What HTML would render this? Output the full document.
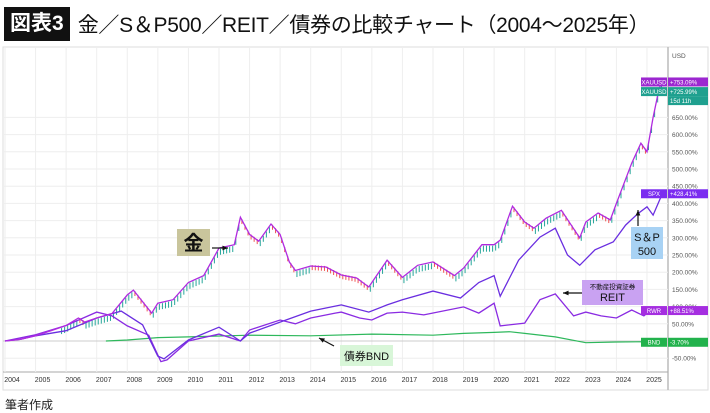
<!DOCTYPE html>
<html><head><meta charset="utf-8">
<style>
body{margin:0;width:710px;height:413px;background:#fff;overflow:hidden;font-family:"Liberation Sans","Noto Sans CJK JP",sans-serif;}
#title{position:absolute;left:0;top:6px;height:36px;display:flex;align-items:center;}
#badge{background:#111;color:#fff;font-size:21px;font-weight:bold;padding:2px 6px;margin-left:4px;height:30px;line-height:30px;}
#ttext{font-size:21px;margin-left:8px;color:#111;letter-spacing:-0.3px;}
#foot{position:absolute;left:5px;top:396px;font-size:12px;color:#222;}
svg{position:absolute;left:0;top:0;}
</style></head><body>
<div id="title"><span id="badge">図表3</span><span id="ttext">金／S＆P500／REIT／債券の比較チャート（2004～2025年）</span></div>
<svg id="chart" width="710" height="413"></svg>
<div id="foot">筆者作成</div>
<script>
const years=[2004,2005,2006,2007,2008,2009,2010,2011,2012,2013,2014,2015,2016,2017,2018,2019,2020,2021,2022,2023,2024,2025];
const yTicks=[-50,50,100,150,200,250,300,350,400,450,500,550,600,650];
const goldT=[2004,2004.5,2005,2005.5,2006,2006.4,2006.6,2007,2007.5,2008,2008.2,2008.8,2009,2009.5,2010,2010.5,2011,2011.5,2011.7,2012,2012.3,2012.7,2013,2013.3,2013.5,2014,2014.5,2015,2015.5,2015.9,2016.5,2017,2017.5,2018,2018.7,2019,2019.6,2020,2020.2,2020.6,2021,2021.3,2021.7,2022.2,2022.8,2023,2023.4,2023.8,2024,2024.5,2024.8,2025,2025.2,2025.4,2025.5];
const goldV=[0,5,15,30,45,67,55,67,80,134,148,81,110,120,170,190,270,280,360,310,290,340,310,230,205,218,215,192,183,157,235,185,220,230,190,212,280,280,293,392,346,328,357,380,300,346,372,352,400,517,575,550,650,735,753];
const spxT=[2004,2004.5,2005,2006,2007,2007.8,2008.5,2009,2009.2,2010,2011,2011.7,2012,2013,2014,2015,2015.9,2016.5,2017,2018,2018.9,2019.5,2020,2020.2,2020.8,2021.5,2022,2022.4,2022.8,2023.3,2023.9,2024.3,2024.7,2025,2025.2,2025.5];
const spxV=[0,5,15,30,67,87,47,-44,-52,3,40,0,23,55,87,105,84,105,120,145,125,170,190,130,235,302,328,250,220,265,288,337,370,390,366,428];
const reitT=[2004,2005,2006,2007,2007.5,2008,2008.7,2009.1,2009.3,2010,2011,2011.7,2012,2013,2013.5,2014,2014.8,2015,2015.6,2016,2016.5,2017,2017.7,2019,2019.5,2020,2020.2,2021,2021.5,2022,2022.6,2023,2023.5,2024,2024.5,2024.9,2025.2,2025.5];
const reitV=[0,18,45,84,73,44,17,-60,-55,0,20,0,32,61,50,67,81,84,67,61,81,84,76,99,81,110,44,52,120,137,73,84,73,67,90,73,96,88.5];
const bndT=[2007.3,2008,2009,2010,2012,2014,2016,2018,2019,2020,2020.5,2021,2022,2023,2024,2025,2025.5];
const bndV=[0,3,10,12,17,15,20,17,22,25,27,22,12,-5,-3,-2,-3.7];
const svg=document.getElementById('chart');
const NS='http://www.w3.org/2000/svg';
const X=t=>5+(t-2004)*30.57, Y=v=>341-v*0.344;
function mk(tag,a,p){const e=document.createElementNS(NS,tag);for(const k in a)e.setAttribute(k,a[k]);(p||svg).appendChild(e);return e;}
mk('rect',{x:3,y:47,width:705,height:343,fill:'none',stroke:'#ddd'});
mk('line',{x1:668,y1:47,x2:668,y2:390,stroke:'#bbb','stroke-width':1.5});
mk('line',{x1:3,y1:372,x2:668,y2:372,stroke:'#aaa'});
years.forEach(y=>{const g=mk('line',{x1:X(y),y1:48,x2:X(y),y2:372,stroke:'#eee'});

const t=mk('text',{x:X(y)+7,y:382,'font-size':7,'text-anchor':'middle',fill:'#333'});t.textContent=y;
});
yTicks.concat([0]).forEach(v=>{const g=mk('line',{x1:3,y1:Y(v),x2:668,y2:Y(v),stroke:v===0?'#ccc':'#eee'});

if(v===0)return;const t=mk('text',{x:672,y:Y(v)+2.5,'font-size':6.5,fill:'#555'});t.textContent=v.toFixed(2)+'%';
});
const usd=mk('text',{x:672,y:58,'font-size':6.5,fill:'#555'});usd.textContent='USD';

function pts(T,V){return T.map((t,i)=>X(t).toFixed(1)+','+Y(V[i]).toFixed(1)).join(' ');}
for(let i=0;i<goldT.length-1;i++){const n=Math.max(2,Math.round((goldT[i+1]-goldT[i])*10));for(let k=0;k<n;k++){const f=(k+0.5)/n;const t=goldT[i]+(goldT[i+1]-goldT[i])*f;const v=goldV[i]+(goldV[i+1]-goldV[i])*f;
if(t<2005.8)continue;const up=goldV[i+1]>=goldV[i];const c=mk('rect',{x:X(t)-0.5,y:Y(v)+(up?1:-1),width:1,height:up?6:5,fill:up?'#26a69a':'#ef5350'});
}}
const b=mk('polyline',{points:pts(bndT,bndV),fill:'none',stroke:'#2eb85c','stroke-width':1.2});

const r=mk('polyline',{points:pts(reitT,reitV),fill:'none',stroke:'#8a2be2','stroke-width':1.3});

const s=mk('polyline',{points:pts(spxT,spxV),fill:'none',stroke:'#6a2ee0','stroke-width':1.3});

const g=mk('polyline',{points:pts(goldT,goldV),fill:'none',stroke:'#b02ae0','stroke-width':1.3});

function tag(y,bg,a,bt,name){const gg=mk('g',{});
mk('rect',{x:641,y:y-4.5,width:26,height:9,fill:bg},gg);mk('rect',{x:668,y:y-4.5,width:40,height:9,fill:bg},gg);
const t1=mk('text',{x:654,y:y+2.3,'font-size':6,fill:'#fff','text-anchor':'middle'},gg);t1.textContent=a;
const t2=mk('text',{x:670,y:y+2.3,'font-size':6,fill:'#fff'},gg);t2.textContent=bt;}
tag(Y(753),'#9c27d0','XAUUSD','+753.09%','gold-price-tag');
tag(Y(725),'#1fa08f','XAUUSD','+725.99%','gold-close-tag');
mk('rect',{x:668,y:Y(725)+4.5,width:40,height:9,fill:'#1fa08f'});
const cd=mk('text',{x:670,y:Y(725)+11.5,'font-size':6,fill:'#fff'});cd.textContent='15d 11h';
tag(Y(428),'#7b2cf0','SPX','+428.41%','spx-tag');
tag(Y(88.5),'#a52ee0','RWR','+88.51%','reit-tag');
tag(Y(-3.7),'#22b24c','BND','-3.70%','bnd-tag');
function arrow(x1,y1,x2,y2){mk('line',{x1,y1,x2,y2,stroke:'#111','stroke-width':1.2});const a=Math.atan2(y2-y1,x2-x1);
mk('polygon',{points:`${x2},${y2} ${x2-6*Math.cos(a-0.4)},${y2-6*Math.sin(a-0.4)} ${x2-6*Math.cos(a+0.4)},${y2-6*Math.sin(a+0.4)}`,fill:'#111'});}
function box(x,y,w,h,bg,lines,name){const gg=mk('g',{});
mk('rect',{x,y,width:w,height:h,fill:bg},gg);lines.forEach(l=>{const t=mk('text',{x:x+w/2,y:l[1],'font-size':l[2],'text-anchor':'middle',fill:'#111','font-weight':l[3]||'normal'},gg);t.textContent=l[0];});}
box(177,229,33,27,'#c9c59c',[['金',250,20,'bold']],'gold-annotation');arrow(212,248,228,248);
box(631,227,32,32,'#a8d2f4',[['S＆P',241,11],['500',255,11]],'spx-annotation');arrow(638,226,638,210);
box(582,280,61,25,'#c9a2f2',[['不動産投資証券',289,6.5],['REIT',301,11]],'reit-annotation');arrow(582,293,563,293);
box(340,345,53,21,'#d8f6d8',[['債券BND',360,11]],'bnd-annotation');arrow(334,346,319,338);
</script>
</body></html>
